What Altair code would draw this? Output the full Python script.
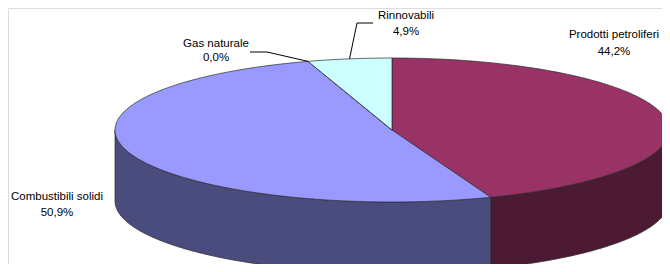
import math
import altair as alt
import pandas as pd

# ---- data ----
categories = ["Prodotti petroliferi", "Combustibili solidi", "Gas naturale", "Rinnovabili"]
shares = [44.2, 50.9, 0.0, 4.9]
share_labels = ["44,2%", "50,9%", "0,0%", "4,9%"]
top_colors = ["#993366", "#9999ff", "#ffffcc", "#ccffff"]
side_colors = ["#4d1a33", "#4b4c7e", "#80806a", "#668080"]

# ---- layout (reference pixel space, y downward) ----
CX, CY, RX, RY, DEPTH = 392, 130, 277, 72, 71
label_x = [614, 57, 216, 406]
name_y = [35, 197, 44, 16]
pct_y = [52, 213, 58, 32]
W, H = 654, 256


def pt(t_deg, dy=0.0):
    t = math.radians(t_deg)
    return CX + RX * math.sin(t), CY - RY * math.cos(t) + dy


tops, sides = [], []
cum = 0.0
bounds = []
for i, (cat, s) in enumerate(zip(categories, shares)):
    t0 = cum / 100 * 360
    t1 = (cum + s) / 100 * 360
    cum += s
    bounds.append((t0, t1))
    n = max(2, int(math.ceil((t1 - t0) / 1.0)) + 1)
    pts = [(CX, CY)]
    for k in range(n):
        pts.append(pt(t0 + (t1 - t0) * k / (n - 1)))
    pts.append((CX, CY))
    for j, (x, y) in enumerate(pts):
        tops.append({"poly": cat, "idx": j, "x": x, "y": y, "fill": top_colors[i]})
    a, b = max(t0, 90.0), min(t1, 270.0)
    if b > a:
        m = max(2, int(math.ceil(b - a)) + 1)
        arc = [a + (b - a) * k / (m - 1) for k in range(m)]
        spts = [pt(t) for t in arc] + [pt(t, DEPTH) for t in reversed(arc)]
        spts.append(spts[0])
        for j, (x, y) in enumerate(spts):
            sides.append({"poly": cat, "idx": j, "x": x, "y": y, "fill": side_colors[i]})

top_df = pd.DataFrame(tops)
side_df = pd.DataFrame(sides)

# leader lines for the small slices
g0 = bounds[2][0]
r_mid = (bounds[3][0] + bounds[3][1]) / 2
gx, gy = pt(g0)
rx_, ry_ = pt(r_mid)
leaders = pd.DataFrame([
    {"poly": "gas", "idx": 0, "x": 250, "y": 52},
    {"poly": "gas", "idx": 1, "x": 267, "y": 52},
    {"poly": "gas", "idx": 2, "x": gx, "y": gy},
    {"poly": "ren", "idx": 0, "x": 373, "y": 23},
    {"poly": "ren", "idx": 1, "x": 357, "y": 23},
    {"poly": "ren", "idx": 2, "x": rx_, "y": ry_},
])

labels = pd.DataFrame(
    [{"x": label_x[i], "y": name_y[i], "t": categories[i]} for i in range(4)]
    + [{"x": label_x[i], "y": pct_y[i], "t": share_labels[i]} for i in range(4)]
)

xs = alt.Scale(domain=[8, 8 + W], range=[0, W])
ys = alt.Scale(domain=[8, 8 + H], range=[0, H])


def poly_layer(df, width):
    return alt.Chart(df).mark_line(stroke="#2a2a2a", strokeWidth=width, strokeJoin="round").encode(
        x=alt.X("x:Q", scale=xs, axis=None),
        y=alt.Y("y:Q", scale=ys, axis=None),
        detail="poly:N",
        order="idx:Q",
        fill=alt.Fill("fill:N", scale=None),
    )


side_layer = poly_layer(side_df, 0.7)
top_layer = poly_layer(top_df, 0.7)

leader_layer = alt.Chart(leaders).mark_line(stroke="#000000", strokeWidth=1).encode(
    x=alt.X("x:Q", scale=xs, axis=None),
    y=alt.Y("y:Q", scale=ys, axis=None),
    detail="poly:N",
    order="idx:Q",
)

text_layer = alt.Chart(labels).mark_text(
    font="Liberation Sans", fontSize=11.5, color="#000000", align="center", baseline="middle"
).encode(
    x=alt.X("x:Q", scale=xs, axis=None),
    y=alt.Y("y:Q", scale=ys, axis=None),
    text="t:N",
)

chart = alt.layer(side_layer, top_layer, leader_layer, text_layer).properties(
    width=W, height=H, padding=0, autosize=alt.AutoSizeParams(type="none")
).configure_view(strokeWidth=0).configure(background="#ffffff")

chart.save("out.html", embed_options={"renderer": "svg", "actions": False})
